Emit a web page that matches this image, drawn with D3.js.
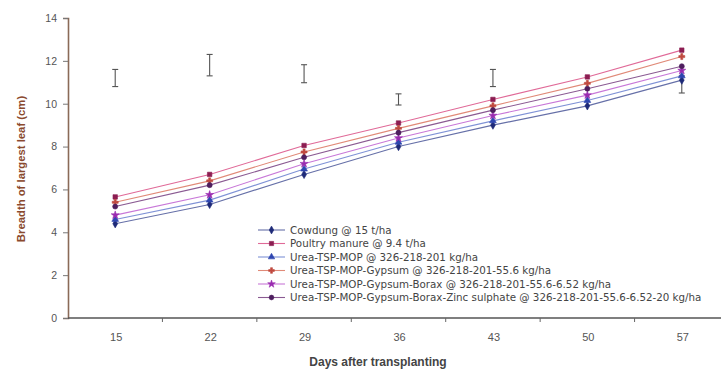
<!DOCTYPE html>
<html>
<head>
<meta charset="utf-8">
<script src="https://cdn.jsdelivr.net/npm/d3@7/dist/d3.min.js"></script>
<style>
  html, body { margin: 0; padding: 0; background: #fff; }
  svg { display: block; font-family: "Liberation Sans", Arial, sans-serif; }
</style>
</head>
<body>
<svg id="chart" width="721" height="372"></svg>
<script>
// Days after transplanting
const days = [15, 22, 29, 36, 43, 50, 57];

// Breadth of largest leaf (cm) for each treatment
const seriesNames = [
  "Cowdung @ 15 t/ha",
  "Poultry manure @ 9.4 t/ha",
  "Urea-TSP-MOP @ 326-218-201 kg/ha",
  "Urea-TSP-MOP-Gypsum @ 326-218-201-55.6 kg/ha",
  "Urea-TSP-MOP-Gypsum-Borax @ 326-218-201-55.6-6.52 kg/ha",
  "Urea-TSP-MOP-Gypsum-Borax-Zinc sulphate @ 326-218-201-55.6-6.52-20 kg/ha"
];
const cowdung   = [4.40, 5.30, 6.70, 8.00, 9.00, 9.90, 11.10];
const poultry   = [5.65, 6.70, 8.05, 9.10, 10.20, 11.25, 12.50];
const utm       = [4.60, 5.50, 6.95, 8.20, 9.20, 10.15, 11.30];
const utmG      = [5.40, 6.40, 7.75, 8.85, 9.90, 10.95, 12.20];
const utmGB     = [4.80, 5.75, 7.20, 8.40, 9.45, 10.40, 11.55];
const utmGBZ    = [5.20, 6.20, 7.50, 8.65, 9.70, 10.70, 11.75];

// LSD bars (centre, half-length); null where none is shown
const lsdCentre = [11.20, 11.80, 11.40, 10.20, 11.20, null, 10.90];
const lsdHalf   = [0.40, 0.50, 0.42, 0.26, 0.40, null, 0.40];

const yTicks = [0, 2, 4, 6, 8, 10, 12, 14];

const seriesValues = [cowdung, poultry, utm, utmG, utmGB, utmGBZ];
const lineColors   = ["#6670a8", "#e06a98", "#7f92d6", "#e08a78", "#c878d8", "#8a5a92"];
const markColors   = ["#1e2a78", "#8c1d52", "#2f46b0", "#c04a40", "#9a2cb0", "#4e1e5e"];
const markTypes    = [d3.symbolDiamond, d3.symbolSquare, d3.symbolTriangle, d3.symbolCross, d3.symbolStar, d3.symbolCircle];

const svg = d3.select("#chart");

const x = d3.scaleBand().domain(days).range([68, 729]);
const y = d3.scaleLinear().domain([0, 14]).range([318, 18]);
const cx = d => x(d) + x.bandwidth() / 2;

// Y axis
const yAxis = svg.append("g").attr("transform", "translate(68,0)")
  .call(d3.axisLeft(y).tickValues(yTicks).tickSize(5).tickPadding(6));
yAxis.select(".domain").attr("stroke", "#8a6a58").attr("stroke-width", 1.6);
yAxis.selectAll(".tick line").attr("stroke", "#777");
yAxis.selectAll(".tick text").attr("fill", "#555").attr("font-size", 10.5);

// X axis with ticks on category boundaries
const xAxis = svg.append("g").attr("transform", "translate(0,318)");
xAxis.append("line").attr("x1", 68).attr("x2", 729).attr("stroke", "#555").attr("stroke-width", 1.6);
xAxis.selectAll("line.tk").data(days.slice(1)).join("line")
  .attr("class", "tk").attr("x1", d => x(d)).attr("x2", d => x(d))
  .attr("y1", 0).attr("y2", 4).attr("stroke", "#666");
xAxis.selectAll("text").data(days).join("text")
  .attr("x", d => cx(d) + 1).attr("y", 23).attr("text-anchor", "middle")
  .attr("fill", "#555").attr("font-size", 11).text(d => d);

// Axis titles
svg.append("text").attr("x", 378).attr("y", 366).attr("text-anchor", "middle")
  .attr("font-weight", "bold").attr("font-size", 12).attr("fill", "#444")
  .text("Days after transplanting");
svg.append("text").attr("transform", "translate(25,169) rotate(-90)")
  .attr("text-anchor", "middle").attr("font-weight", "bold").attr("font-size", 11.3)
  .attr("fill", "#8a4a2e").text("Breadth of largest leaf (cm)");

// LSD bars
const lsd = days.map((d, i) => ({ d, c: lsdCentre[i], h: lsdHalf[i] })).filter(e => e.c !== null);
const eb = svg.append("g").attr("stroke", "#555").attr("stroke-width", 1.1);
lsd.forEach(e => {
  const px = cx(e.d);
  eb.append("line").attr("x1", px).attr("x2", px).attr("y1", y(e.c + e.h)).attr("y2", y(e.c - e.h));
  eb.append("line").attr("x1", px - 3).attr("x2", px + 3).attr("y1", y(e.c + e.h)).attr("y2", y(e.c + e.h));
  eb.append("line").attr("x1", px - 3).attr("x2", px + 3).attr("y1", y(e.c - e.h)).attr("y2", y(e.c - e.h));
});

// Lines and markers
const line = d3.line().x((v, i) => cx(days[i])).y(v => y(v));
seriesValues.forEach((vals, s) => {
  svg.append("path").attr("d", line(vals)).attr("fill", "none")
    .attr("stroke", lineColors[s]).attr("stroke-width", 1.1);
});
seriesValues.forEach((vals, s) => {
  const sym = d3.symbol().type(markTypes[s]).size(20);
  svg.append("g").selectAll("path").data(vals).join("path")
    .attr("transform", (v, i) => `translate(${cx(days[i])},${y(v)})`)
    .attr("d", sym())
    .attr("fill", markColors[s]).attr("stroke", markColors[s]).attr("stroke-width", 0.6);
});

// Legend
const lg = svg.append("g").attr("transform", "translate(258,230)");
seriesNames.forEach((name, s) => {
  const row = lg.append("g").attr("transform", `translate(0,${s * 13.5})`);
  row.append("line").attr("x1", 0).attr("x2", 27).attr("stroke", lineColors[s]).attr("stroke-width", 1.1);
  row.append("path").attr("transform", "translate(13.5,0)")
    .attr("d", d3.symbol().type(markTypes[s]).size(18)())
    .attr("fill", markColors[s]).attr("stroke", markColors[s]).attr("stroke-width", 0.6);
  row.append("text").attr("x", 32).attr("y", 3.5).attr("font-size", 10.3)
    .attr("font-family", "'DejaVu Sans', sans-serif")
    .attr("fill", "#444").text(name);
});
</script>
</body>
</html>
